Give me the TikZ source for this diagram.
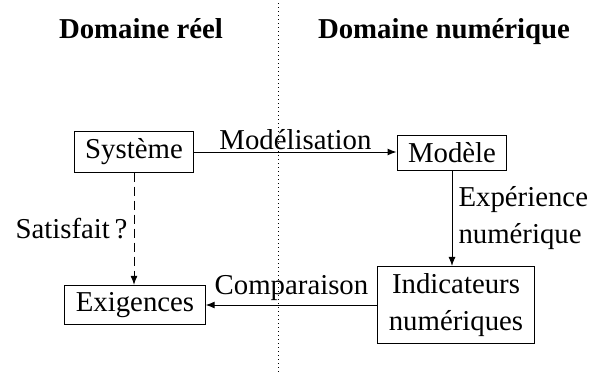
\documentclass[tikz,border=0pt]{standalone}
\usepackage{fontspec}
\setmainfont{Liberation Serif}
\usetikzlibrary{arrows.meta}
\tikzset{
  txt/.style={font=\fontsize{28.8pt}{37pt}\selectfont},
  box/.style={txt,draw,line width=1pt,inner xsep=11pt,inner ysep=7pt,align=center},
  title/.style={font=\fontsize{28.8pt}{37pt}\selectfont\bfseries,anchor=base},
  arr/.style={line width=1pt,-{Latex[length=9pt,width=7pt]}},
  lbl/.style={txt},
  sep/.style={line width=1pt,dash pattern=on 0.8pt off 3.2pt}
}
\begin{document}
\begin{tikzpicture}[x=1pt,y=-1pt]
\useasboundingbox (0,0) rectangle (595,378);
\coordinate (topsep) at (278,3);
\coordinate (botsep) at (278,372);
\draw[sep] (topsep) -- (botsep);
\node[title] (t1) at (141,38) {Domaine réel};
\node[title] (t2) at (444,38) {Domaine numérique};
\node[box] (sys) at (134,152) {Système};
\node[box] (mod) at (452,153) {Modèle};
\node[box] (exi) at (135,305) {Exigences};
\node[box] (ind) at (456,305) {Indicateurs\\numériques};
\draw[arr] (sys.east) -- (sys.east -| mod.west) node[lbl,midway,above,inner sep=2pt] {Modélisation};
\draw[arr] (mod.south) -- (mod.south |- ind.north) node[lbl,midway,right,align=left,inner sep=6pt] {Expérience\\numérique};
\draw[arr] (ind) -- node[lbl,above,inner sep=4pt] {Comparaison} (exi);
\draw[arr,dash pattern=on 9pt off 5pt] (sys.south) -- (sys.south |- exi.north) node[lbl,midway,left,inner sep=6pt] {Satisfait\,?};
\end{tikzpicture}
\end{document}
